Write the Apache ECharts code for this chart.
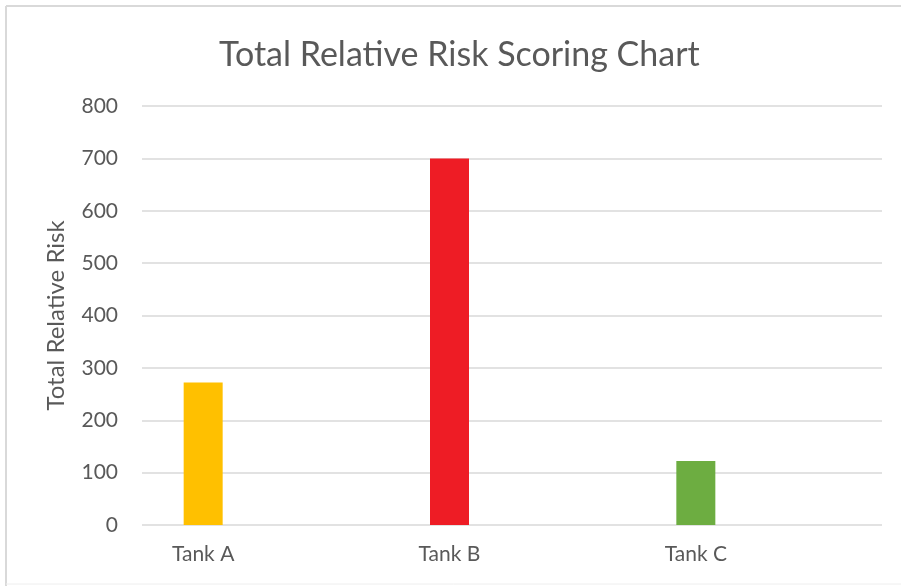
<!DOCTYPE html>
<html>
<head>
<meta charset="utf-8">
<script src="https://cdn.jsdelivr.net/npm/echarts@6/dist/echarts.min.js"></script>
<style>
html,body{margin:0;padding:0;background:#fff;}
#chart{width:901px;height:586px;}
</style>
</head>
<body>
<div id="chart"></div>
<script>
const categories = ['Tank A', 'Tank B', 'Tank C'];
const riskValues = [272, 700, 122];
const barColors = ['#FFC000', '#EE1C25', '#6DAD41'];
const yTicks = { min: 0, max: 800, interval: 100 };
const titleText = 'Total Relative Risk Scoring Chart';
const yAxisName = 'Total Relative Risk';

const FONT = 'Lato, "Open Sans", sans-serif';
const TXT = '#595959';

const chart = echarts.init(document.getElementById('chart'), null, { renderer: 'canvas' });
chart.setOption({
  animation: false,
  backgroundColor: '#fff',
  title: {
    text: titleText,
    left: 219,
    top: 38,
    padding: 0,
    textStyle: { fontFamily: FONT, fontSize: 34, fontWeight: 'normal', color: TXT }
  },
  graphic: [
    { type: 'line', shape: { x1: 6, y1: 6, x2: 901, y2: 6 }, style: { stroke: '#d9d9d9', lineWidth: 2 } },
    { type: 'line', shape: { x1: 6, y1: 6, x2: 6, y2: 586 }, style: { stroke: '#d9d9d9', lineWidth: 2 } },
    { type: 'line', shape: { x1: 6, y1: 584, x2: 901, y2: 584 }, style: { stroke: '#eeeeee', lineWidth: 1 } }
  ],
  grid: [
    { left: 142, right: 19, top: 106, bottom: 61 },
    { left: 80, right: 82, top: 106, bottom: 61 }
  ],
  xAxis: [
    { type: 'category', gridIndex: 0, data: categories, show: false },
    {
      type: 'category', gridIndex: 1, data: categories,
      axisLine: { show: false }, axisTick: { show: false },
      axisLabel: { fontFamily: FONT, fontSize: 21, color: TXT, margin: 19 }
    }
  ],
  yAxis: [
    {
      type: 'value', gridIndex: 0, min: yTicks.min, max: yTicks.max, interval: yTicks.interval,
      name: yAxisName, nameLocation: 'middle', nameGap: 74,
      nameTextStyle: { fontFamily: FONT, fontSize: 24, color: TXT },
      axisLine: { show: false }, axisTick: { show: false },
      axisLabel: { fontFamily: FONT, fontSize: 21, color: TXT, margin: 24 },
      splitLine: { lineStyle: { color: '#d9d9d9', width: 1.5 } }
    },
    {
      type: 'value', gridIndex: 1, min: yTicks.min, max: yTicks.max, interval: yTicks.interval,
      show: false, splitLine: { show: false }
    }
  ],
  series: [{
    type: 'bar',
    xAxisIndex: 1, yAxisIndex: 1,
    barWidth: 39,
    data: riskValues.map((v, i) => ({ value: v, itemStyle: { color: barColors[i] } }))
  }]
});
</script>
</body>
</html>
